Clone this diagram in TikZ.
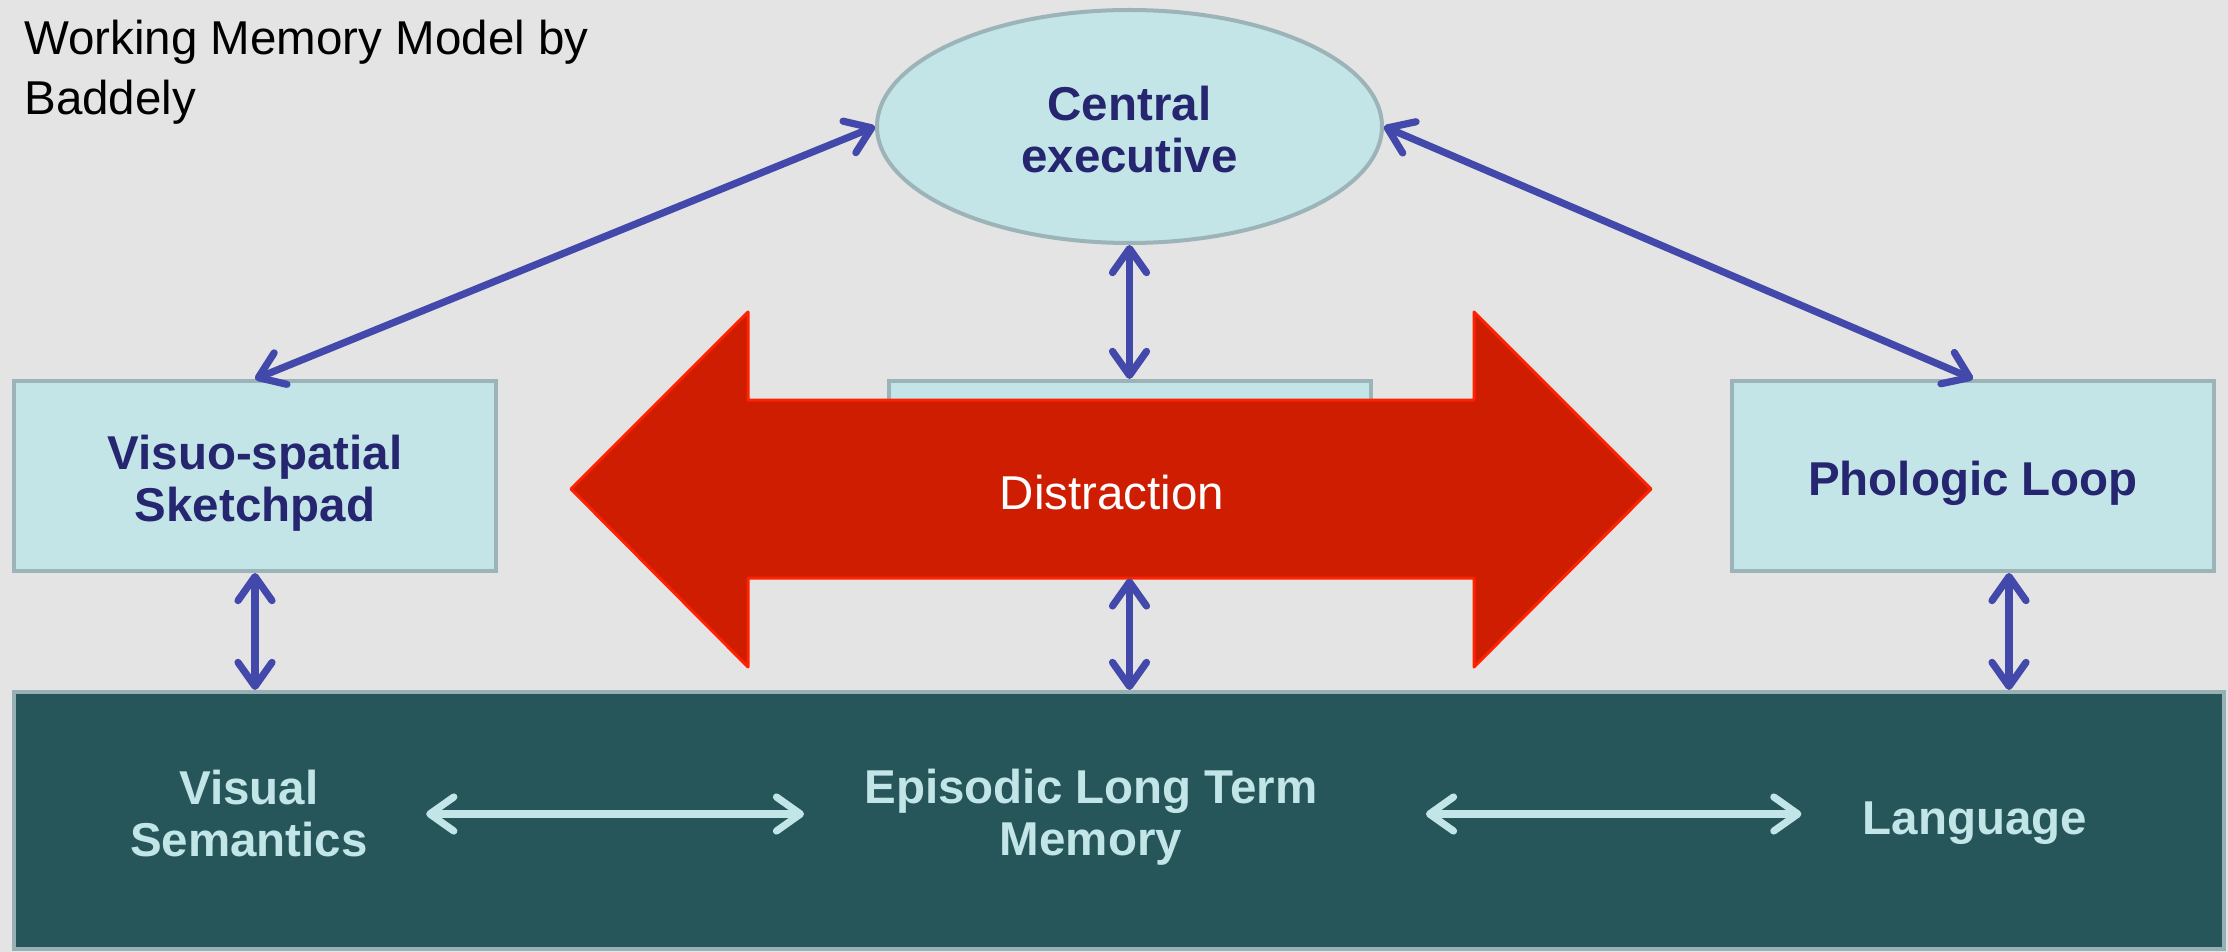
\documentclass[tikz,border=0pt]{standalone}
\usepackage{fontspec}
\setmainfont{Liberation Sans}
\usepackage{xcolor}
\usepackage{tikz}
\usetikzlibrary{shapes,arrows,positioning,calc,arrows.meta}

\definecolor{bggray}{HTML}{E4E4E4}
\definecolor{boxfill}{HTML}{C4E5E7}
\definecolor{boxline}{HTML}{9CB4B8}
\definecolor{navytext}{HTML}{262670}
\definecolor{linkblue}{HTML}{4349AA}
\definecolor{redfill}{HTML}{CE1D00}
\definecolor{redline}{HTML}{FF2200}
\definecolor{ltmfill}{HTML}{265659}
\definecolor{ltmline}{HTML}{96B0B3}
\definecolor{paletext}{HTML}{C2E5E7}

\newcommand{\slidefont}{\fontsize{23.75}{26}\selectfont}

\begin{document}
\begin{tikzpicture}[x=0.5pt, y=-0.5pt,
    box/.style={draw=boxline, fill=boxfill, line width=2pt, minimum width=241pt, minimum height=95pt, align=center, text=navytext, font=\slidefont\bfseries},
    link/.style={{Straight Barb[length=12pt,width=17pt,round]}-{Straight Barb[length=12pt,width=17pt,round]}, line width=3.6pt, draw=linkblue},
    palelink/.style={link, draw=paletext},
    paletxt/.style={inner sep=0pt, align=center, text=paletext, font=\slidefont\bfseries}]
    % background
    \fill[bggray] (0,0) rectangle (2228,952);
    \useasboundingbox (0,0) rectangle (2228,952);

    \node (title) [anchor=north west, align=left, inner sep=0pt, font=\fontsize{23.75}{30}\selectfont] at (24,20) {Working Memory Model by\\Baddely};

    % components
    \node (central) [box, ellipse, minimum width=252.5pt, minimum height=116.5pt, inner sep=0pt, text height=46.5pt] at (1129.5,126.5) {Central\\executive};
    \node (sketch) [box, text height=50pt] at (255,476) {Visuo-spatial\\Sketchpad};
    \node (phon) [box, text height=25pt] at (1973,476) {Phologic Loop};
    \node (buffer) [box] at (1129.5,476) {};

    % distraction arrow
    \draw[fill=redfill, draw=redline, line width=1.5pt, line join=round]
        (571,489) -- (748,312) -- (748,400) -- (1474,400) -- (1474,312) -- (1651,489)
        -- (1474,667) -- (1474,578) -- (748,578) -- (748,667) -- cycle;
    \node (distr) [minimum height=89pt, text=white, font=\slidefont, text height=21pt] at (1112,489) {Distraction};

    % long term memory
    \node (ltm) [draw=ltmline, fill=ltmfill, line width=2pt, minimum width=1105pt, minimum height=128.5pt] at (1119,820.5) {};
    \node (vissem) [paletxt] at (249,814) {Visual\\Semantics};
    \node (episodic) [paletxt] at (1091,817) {Episodic Long Term\\Memory};
    \node (lang) [paletxt] at (1975,823) {Language};

    \draw[link] (central.west) -- (sketch.north);
    \draw[link] (central.east) -- (phon.north);
    \draw[link] (central.south) -- (buffer.north);
    \draw[link] (sketch.south) -- (sketch.south |- ltm.north);
    \draw[link] (distr.south -| buffer.south) -- (buffer.south |- ltm.north);
    \draw[link] ([xshift=18pt]phon.south) -- ([xshift=18pt]phon.south |- ltm.north);

    \draw[palelink, shorten <=29pt, shorten >=30pt] (vissem.east) -- (vissem.east -| episodic.west);
    \draw[palelink, shorten <=54pt, shorten >=30.5pt] (vissem.east -| episodic.east) -- (vissem.east -| lang.west);
\end{tikzpicture}
\end{document}
